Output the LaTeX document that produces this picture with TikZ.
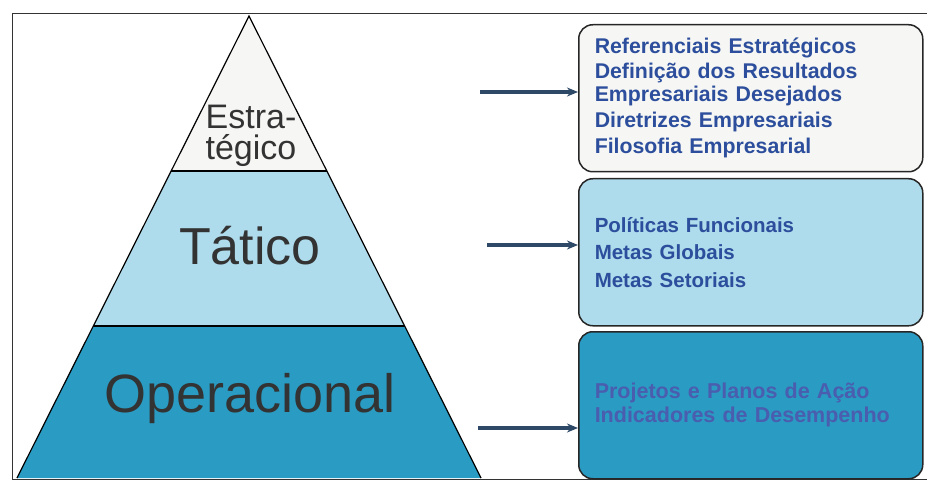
\documentclass[tikz,border=0pt]{standalone}
\usepackage{fontspec}
\setmainfont{Liberation Sans}
\usepackage{tikz}
\usetikzlibrary{calc,positioning,arrows.meta}

\definecolor{topband}{HTML}{F6F7F4}
\definecolor{midband}{HTML}{AEDCEC}
\definecolor{lowband}{HTML}{2A9BC3}
\definecolor{itemblue}{HTML}{2C4E9C}
\definecolor{itemdark}{HTML}{4A5DAE}
\definecolor{arrowblue}{HTML}{2E4868}
\definecolor{labelgray}{HTML}{333333}

\tikzset{
  levelbox/.style={draw=black!85,line width=1.5pt,rounded corners=14pt,
    minimum width=344pt,minimum height=147pt,text width=312pt,
    inner xsep=16pt,align=left,anchor=north west},
  items/.style={font=\fontsize{21.3}{23}\selectfont\bfseries},
  levelarrow/.style={-{Stealth[length=11pt,width=9pt]},line width=3.4pt,arrowblue}
}

\begin{document}
\begin{tikzpicture}[x=1pt,y=-1pt]
  \useasboundingbox (0,0) rectangle (927,481);
  % frame
  \draw[black!80,line width=0.9pt] (927,13) -- (12,13) -- (12,479) -- (927,479);

  % pyramid
  \coordinate (A) at (249,16);
  \coordinate (BL) at (17,478);
  \coordinate (BR) at (481,478);
  \coordinate (AL) at ($(A)!0.3355!(BL)$);
  \coordinate (AR) at ($(A)!0.3355!(BR)$);
  \coordinate (ML) at ($(A)!0.671!(BL)$);
  \coordinate (MR) at ($(A)!0.671!(BR)$);
  \fill[topband] (A) -- (AL) -- (AR) -- cycle;
  \fill[midband] (AL) -- (ML) -- (MR) -- (AR) -- cycle;
  \fill[lowband] (ML) -- (BL) -- (BR) -- (MR) -- cycle;
  \draw[line width=1.2pt] (BL) -- (A) -- (BR);
  \draw[line width=1.2pt] (AL) -- (AR);
  \draw[line width=1.2pt] (ML) -- (MR);
  \node[labelgray,align=center,font=\fontsize{34}{31}\selectfont] (estr) at (251,136) {Estra-\\tégico};
  \node[labelgray,font=\fontsize{52}{52}\selectfont] (tat) at (250,246) {Tático};
  \node[labelgray,font=\fontsize{54}{54}\selectfont] (oper) at (250,399) {Operacional};

  % boxes
  \node[levelbox,fill=topband,text=itemblue,items] (b1) at (578,24)
    {Referenciais Estratégicos\\[2pt]
     Definição dos Resultados\\Empresariais Desejados\\[3pt]
     Diretrizes Empresariais\\[3pt]
     Filosofia Empresarial};
  \node[levelbox,fill=midband,text=itemblue,items,font=\fontsize{20.5}{27.5}\selectfont\bfseries] (b2) at (578,178)
    {Políticas Funcionais\\Metas Globais\\Metas Setoriais};
  \node[levelbox,fill=lowband,text=itemdark,items,font=\fontsize{21.5}{24}\selectfont\bfseries] (b3) at (578,331)
    {Projetos e Planos de Ação\\Indicadores de Desempenho};

  % arrows
  \coordinate (s1) at (480,92);
  \coordinate (s2) at (487,245);
  \coordinate (s3) at (478,428);
  \draw[levelarrow] (s1) -- (b1.west |- s1);
  \draw[levelarrow] (s2) -- (b2.west |- s2);
  \draw[levelarrow] (s3) -- (b3.west |- s3);
\end{tikzpicture}
\end{document}
